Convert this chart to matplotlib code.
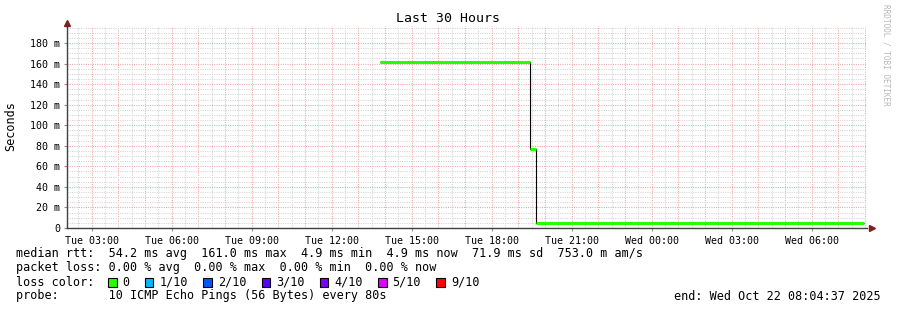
import numpy as np
import matplotlib
matplotlib.use("Agg")
import matplotlib.pyplot as plt
from matplotlib.patches import Rectangle
from matplotlib.transforms import offset_copy

# Data (hours since Tue 00:00, median rtt in ms)
edges_h = [13.80, 19.43, 19.66, 31.97]
median_ms = [161.0, 77.0, 4.9]
tick_hours = [3, 6, 9, 12, 15, 18, 21, 24, 27, 30]
tick_labels = ["Tue 03:00", "Tue 06:00", "Tue 09:00", "Tue 12:00", "Tue 15:00",
               "Tue 18:00", "Tue 21:00", "Wed 00:00", "Wed 03:00", "Wed 06:00"]
ytick_ms = [0, 20, 40, 60, 80, 100, 120, 140, 160, 180]
ytick_labels = ["0"] + [f"{v} m" for v in ytick_ms[1:]]
loss_labels = ["0", "1/10", "2/10", "3/10", "4/10", "5/10", "9/10"]
loss_colors = ["#26ff00", "#00b8ff", "#0059ff", "#5e00ff", "#7e00ff", "#dd00ff", "#ff0000"]
t_start, t_end = 2.077, 32.077
y_max = 196.5

W, H = 897, 310
MONO = "DejaVu Sans Mono"
plt.rcParams['font.family'] = MONO

fig = plt.figure(figsize=(W / 100, H / 100), dpi=100)
fig.patch.set_facecolor("white")

def fx(x):
    return x / W

def fy(y):
    return 1 - y / H

ax = fig.add_axes([fx(67), fy(228), 800 / W, 202 / H])
ax.set_xlim(t_start, t_end)
ax.set_ylim(0, y_max)

# grid
for h in np.arange(2.5, t_end, 0.5):
    major = abs(h - round(h)) < 1e-6
    ax.axvline(h, color="#f2a6a6" if major else "#d4d4d4", lw=0.75,
               ls=(0, (1, 1.2)), zorder=0)
for v in np.arange(5, y_max, 5):
    major = v % 20 == 0
    ax.axhline(v, color="#f2a6a6" if major else "#d4d4d4", lw=0.75,
               ls=(0, (1, 1.2)), zorder=0)

# median line: black step with green (0 loss) segments on top
ax.stairs(median_ms, edges_h, baseline=None, color="black", lw=0.8, zorder=3)
ax.hlines(median_ms, edges_h[:-1], edges_h[1:], color=loss_colors[0], lw=2.2, zorder=4)

ax.set_xticks(tick_hours)
ax.set_xticklabels(tick_labels, fontsize=7.2)
ax.set_yticks(ytick_ms)
ax.set_yticklabels(ytick_labels, fontsize=7.2)
ax.tick_params(axis="both", length=2, color="#909090", pad=4)
ax.tick_params(axis="y", pad=3)
for s in ["top", "right"]:
    ax.spines[s].set_visible(False)
for s in ["left", "bottom"]:
    ax.spines[s].set_color("#404040")
    ax.spines[s].set_linewidth(1)

# axis arrows
arrow_col = "#7f1f1f"
ax.plot([0], [1], marker="^", color=arrow_col, ms=4.5, clip_on=False,
        transform=offset_copy(ax.transAxes, fig=fig, x=0, y=3, units="dots"))
ax.plot([1], [0], marker=">", color=arrow_col, ms=4.5, clip_on=False,
        transform=offset_copy(ax.transAxes, fig=fig, x=5, y=0, units="dots"))

fig.text(fx(448), fy(19), "Last 30 Hours", ha="center", va="center", fontsize=9.5)
fig.text(fx(11), fy(126), "Seconds", rotation=90, ha="center", va="center", fontsize=8.5)
fig.text(fx(886), fy(4), "RRDTOOL / TOBI OETIKER", rotation=270, ha="center",
         va="top", fontsize=5.6, color="#b8b8b8")

# legend
fs = 8.5
fig.text(fx(16), fy(254), "median rtt:  54.2 ms avg  161.0 ms max  4.9 ms min  "
         "4.9 ms now  71.9 ms sd  753.0 m am/s", va="center", fontsize=fs)
fig.text(fx(16), fy(268), "packet loss: 0.00 % avg  0.00 % max  0.00 % min  0.00 % now",
         va="center", fontsize=fs)
fig.text(fx(16), fy(282), "loss color:", va="center", fontsize=fs)
x = 108
for lab, col in zip(loss_labels, loss_colors):
    fig.patches.append(Rectangle((fx(x), fy(286.5)), 8.5 / W, 8.5 / H,
                                 transform=fig.transFigure, facecolor=col,
                                 edgecolor="black", lw=0.8))
    fig.text(fx(x + 14.5), fy(282), lab, va="center", fontsize=fs)
    x += 10 + 7.1 * (len(lab) + 2.8)
fig.text(fx(16), fy(296), "probe:       10 ICMP Echo Pings (56 Bytes) every 80s",
         va="center", fontsize=fs)
fig.text(fx(881), fy(296), "end: Wed Oct 22 08:04:37 2025", ha="right",
         va="center", fontsize=fs)

fig.savefig("out.png", dpi=100, facecolor="white")
